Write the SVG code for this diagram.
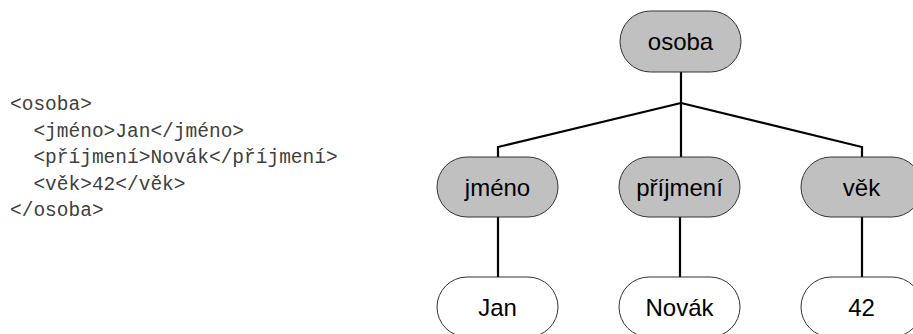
<svg xmlns="http://www.w3.org/2000/svg" width="913" height="334" viewBox="0 0 913 334">
  <style>
    .code { font-family: "Liberation Mono", "Courier New", monospace; font-size: 19.5px; fill: #404040; white-space: pre; }
    .elem rect { fill: #c0c0c0; stroke: #333333; stroke-width: 1; }
    .value rect { fill: #ffffff; stroke: #333333; stroke-width: 1; }
    .label { font-family: "Liberation Sans", Arial, sans-serif; font-size: 24px; fill: #000000; text-anchor: middle; }
    .edge { fill: none; stroke: #000000; stroke-width: 2.2; }
  </style>
  <rect width="913" height="334" fill="#ffffff"/>

  <!-- XML source listing -->
  <g id="xml-source">
    <text class="code" x="10" y="110">&lt;osoba&gt;</text>
    <text class="code" x="10" y="136.5">  &lt;jméno&gt;Jan&lt;/jméno&gt;</text>
    <text class="code" x="10" y="163">  &lt;příjmení&gt;Novák&lt;/příjmení&gt;</text>
    <text class="code" x="10" y="189.5">  &lt;věk&gt;42&lt;/věk&gt;</text>
    <text class="code" x="10" y="216">&lt;/osoba&gt;</text>
  </g>

  <!-- tree edges -->
  <g id="connectors">
    <polyline class="edge" points="681,72 681,103"/>
    <polyline class="edge" points="681,103 498,147 498,157"/>
    <polyline class="edge" points="681,103 681,157"/>
    <polyline class="edge" points="681,103 862,147 862,157"/>
    <line class="edge" x1="498" y1="217" x2="498" y2="277"/>
    <line class="edge" x1="680" y1="217" x2="680" y2="277"/>
    <line class="edge" x1="862" y1="217" x2="862" y2="277"/>
  </g>

  <!-- element nodes -->
  <g id="node-osoba" class="elem">
    <rect x="620" y="11" width="121" height="61" rx="30.5"/>
    <text class="label" x="680.5" y="50">osoba</text>
  </g>
  <g id="node-jmeno" class="elem">
    <rect x="437" y="157" width="121" height="60" rx="30"/>
    <text class="label" x="497.5" y="195.5">jméno</text>
  </g>
  <g id="node-prijmeni" class="elem">
    <rect x="619" y="157" width="121" height="60" rx="30"/>
    <text class="label" x="679.5" y="195.5">příjmení</text>
  </g>
  <g id="node-vek" class="elem">
    <rect x="801" y="157" width="121" height="60" rx="30"/>
    <text class="label" x="861.5" y="195.5">věk</text>
  </g>

  <!-- value nodes -->
  <g id="node-jan" class="value">
    <rect x="437" y="277" width="121" height="60" rx="30"/>
    <text class="label" x="497.5" y="315.5">Jan</text>
  </g>
  <g id="node-novak" class="value">
    <rect x="619" y="277" width="121" height="60" rx="30"/>
    <text class="label" x="679.5" y="315.5">Novák</text>
  </g>
  <g id="node-42" class="value">
    <rect x="801" y="277" width="121" height="60" rx="30"/>
    <text class="label" x="861.5" y="315.5">42</text>
  </g>
</svg>
